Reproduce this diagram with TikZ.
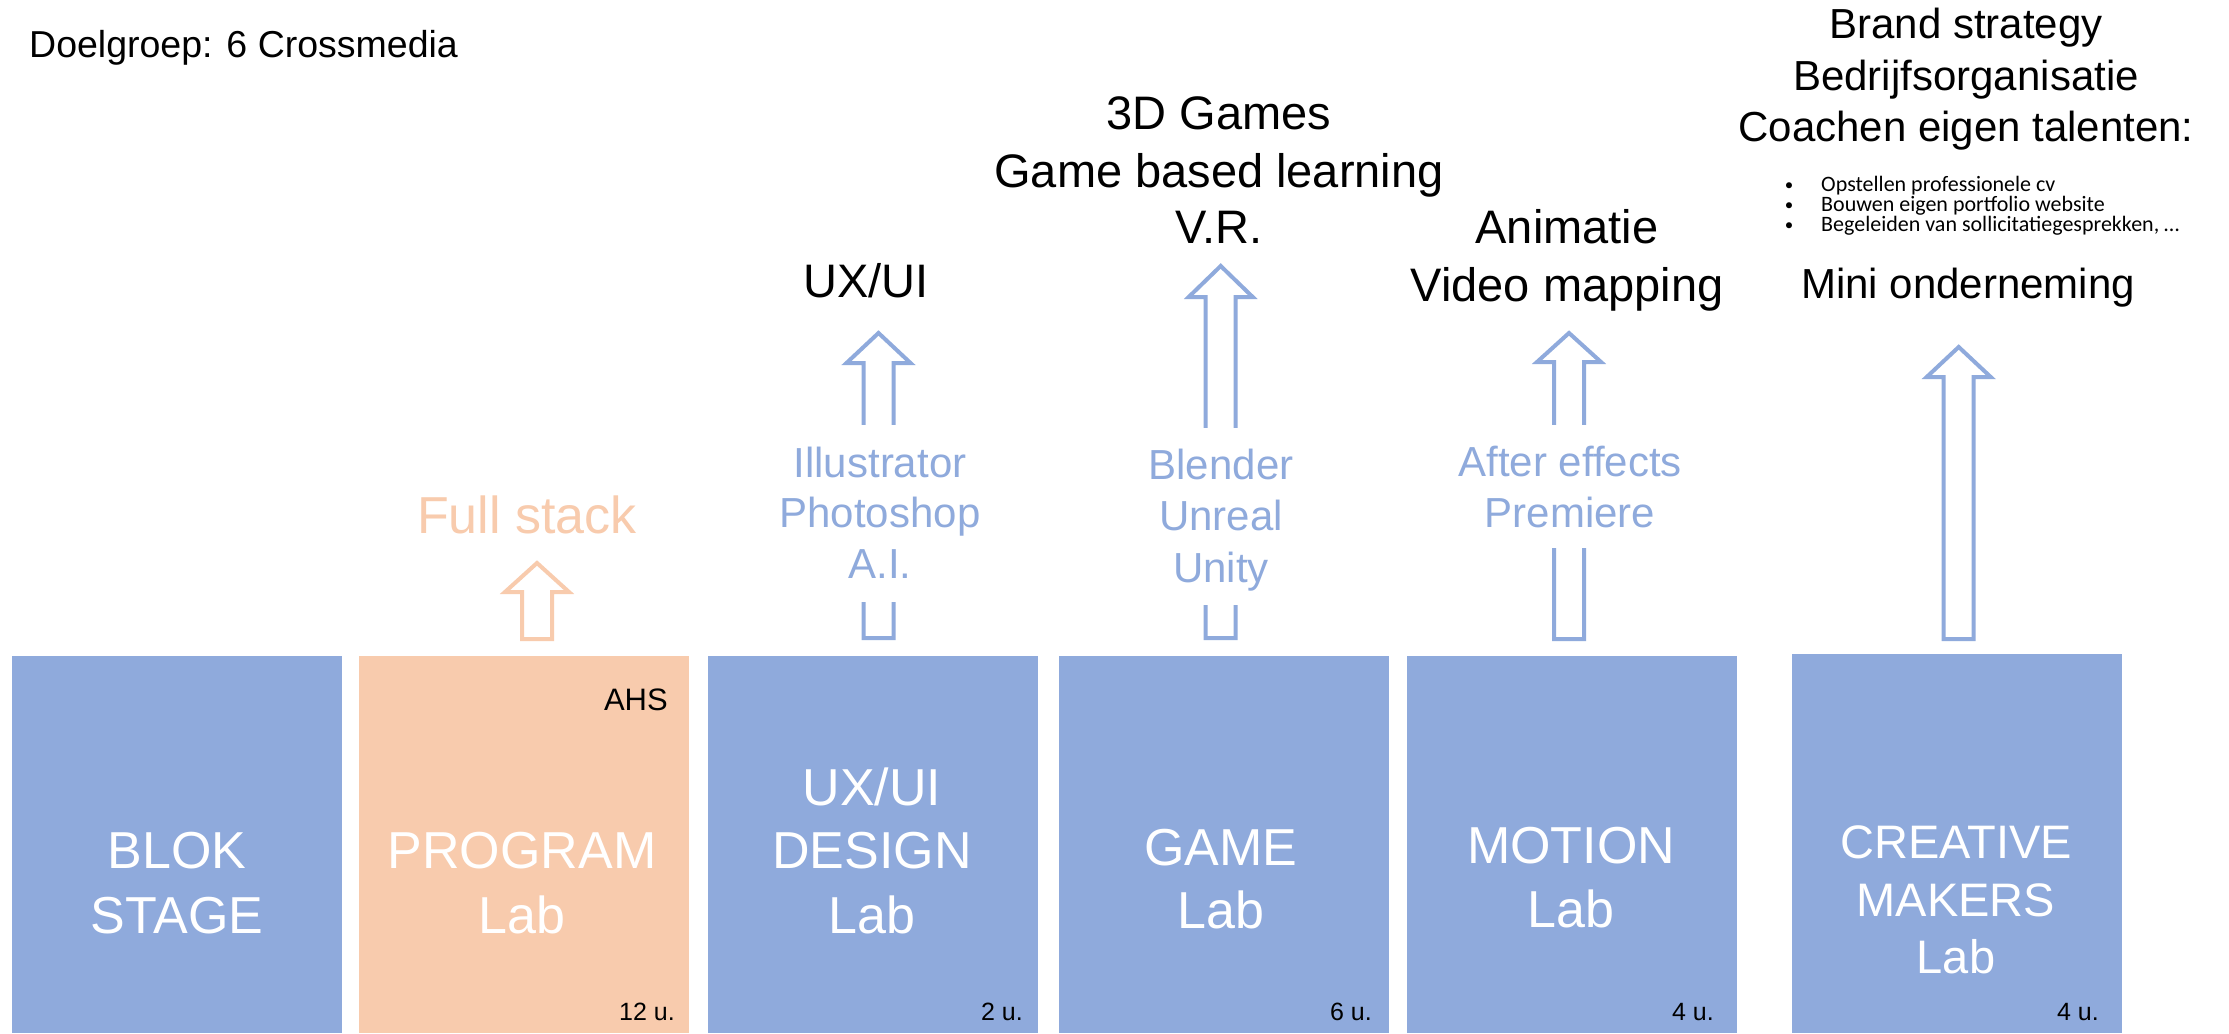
\documentclass[tikz,border=0pt]{standalone}
\usepackage{fontspec}
\setmainfont{Liberation Sans}
\newfontfamily\calib{Carlito}
\definecolor{labblue}{HTML}{8FAADC}
\definecolor{laborange}{HTML}{F8CBAD}
\newcommand\blockarrow[5]{%
  \draw[#1, line width=4pt, line join=miter, miter limit=10]
    (#2-15,#5) -- (#2-15,#4) -- (#2-32,#4) -- (#2,#3) -- (#2+32,#4) -- (#2+15,#4) -- (#2+15,#5) -- cycle;}
\newcommand\gapcover[3]{\fill[white] (#1-22,#2) rectangle (#1+22,#3);}
\begin{document}
\begin{tikzpicture}[x=1pt,y=-1pt,
  labbox/.style={draw=none, minimum width=330pt, anchor=north west, inner sep=0pt},
  boxtxt/.style={text=white, font=\fontsize{52}{62}\selectfont, inner sep=0pt, anchor=base},
  boxtxtsm/.style={text=white, font=\fontsize{47}{56}\selectfont, inner sep=0pt, anchor=base},
  hrs/.style={text=black, font=\fontsize{25}{30}\selectfont, inner sep=0pt, anchor=base east},
  toptxt/.style={text=black, font=\fontsize{47}{56}\selectfont, inner sep=0pt, anchor=base},
  toptxtsm/.style={text=black, font=\fontsize{42}{50}\selectfont, inner sep=0pt, anchor=base},
  tooltxt/.style={text=labblue, font=\fontsize{42}{50}\selectfont, inner sep=0pt, anchor=base},
  bullettxt/.style={text=black, font=\calib\fontsize{22}{26}\selectfont, inner sep=0pt, anchor=base west},
  bulletdot/.style={text=black, font=\calib\fontsize{17}{20}\selectfont, inner sep=0pt, anchor=base}
]
\useasboundingbox (0,0) rectangle (2229,1033);
\fill[white] (0,0) rectangle (2229,1033);

% title
\node[text=black, font=\fontsize{37.5}{45}\selectfont, inner sep=0pt, anchor=base west] (title) at (29,57) {Doelgroep: 6 Crossmedia};

% boxes
\node[labbox, fill=labblue, minimum height=377pt] (blok) at (12,656) {};
\node[labbox, fill=laborange, minimum height=377pt] (program) at (359,656) {};
\node[labbox, fill=labblue, minimum height=377pt] (uxui) at (708,656) {};
\node[labbox, fill=labblue, minimum height=377pt] (game) at (1059,656) {};
\node[labbox, fill=labblue, minimum height=377pt] (motion) at (1407,656) {};
\node[labbox, fill=labblue, minimum height=379pt] (creative) at (1792,654) {};

% box texts
\node[boxtxt] (blok1) at (177,868) {BLOK};
\node[boxtxt] (blok2) at (177,933) {STAGE};
\node[boxtxt] (prog1) at (522,868) {PROGRAM};
\node[boxtxt] (prog2) at (522,933) {Lab};
\node[boxtxt] (ux1) at (872,805) {UX/UI};
\node[boxtxt] (ux2) at (872,868) {DESIGN};
\node[boxtxt] (ux3) at (872,933) {Lab};
\node[boxtxt] (game1) at (1221,865) {GAME};
\node[boxtxt] (game2) at (1221,928) {Lab};
\node[boxtxt] (mot1) at (1571,863) {MOTION};
\node[boxtxt] (mot2) at (1571,927) {Lab};
\node[boxtxtsm] (cre1) at (1956,858) {CREATIVE};
\node[boxtxtsm] (cre2) at (1956,916) {MAKERS};
\node[boxtxtsm] (cre3) at (1956,973) {Lab};

% hours
\node[text=black, font=\fontsize{31}{36}\selectfont, inner sep=0pt, anchor=base east] (ahs) at (668,710) {AHS};
\node[hrs] (h1) at (675,1020) {12 u.};
\node[hrs] (h2) at (1023,1020) {2 u.};
\node[hrs] (h3) at (1372,1020) {6 u.};
\node[hrs] (h4) at (1714,1020) {4 u.};
\node[hrs] (h5) at (2099,1020) {4 u.};

% arrows
\blockarrow{laborange}{537}{563}{592}{639}
\blockarrow{labblue}{878.5}{333}{363}{638}
\gapcover{878.5}{425}{602}
\blockarrow{labblue}{1220.7}{266}{297}{638}
\gapcover{1220.7}{428}{605}
\blockarrow{labblue}{1569}{333}{362}{639}
\gapcover{1569}{425}{548}
\blockarrow{labblue}{1958.7}{347}{377}{639}

% labels on arrows
\node[text=laborange, font=\fontsize{52}{62}\selectfont, inner sep=0pt, anchor=base] (fullstack) at (527,533) {Full stack};
\node[tooltxt] (t1) at (880,477) {Illustrator};
\node[tooltxt] (t2) at (880,527) {Photoshop};
\node[tooltxt] (t3) at (880,578) {A.I.};
\node[tooltxt] (g1) at (1221,479) {Blender};
\node[tooltxt] (g2) at (1221,530) {Unreal};
\node[tooltxt] (g3) at (1221,582) {Unity};
\node[tooltxt] (m1) at (1570,476) {After effects};
\node[tooltxt] (m2) at (1570,527) {Premiere};

% top texts
\node[toptxt] (o1) at (866,297) {UX/UI};
\node[toptxt] (o2) at (1219,129) {3D Games};
\node[toptxt] (o3) at (1219,187) {Game based learning};
\node[toptxt] (o4) at (1219,243) {V.R.};
\node[toptxt] (o5) at (1567,243) {Animatie};
\node[toptxt] (o6) at (1567,301) {Video mapping};
\node[toptxtsm] (c1) at (1966,38) {Brand strategy};
\node[toptxtsm] (c2) at (1966,90) {Bedrijfsorganisatie};
\node[toptxtsm] (c3) at (1966,141) {Coachen eigen talenten:};
\node[bulletdot] (b1) at (1789,190) {\textbullet};
\node[bulletdot] (b2) at (1789,210) {\textbullet};
\node[bulletdot] (b3) at (1789,230) {\textbullet};
\node[bullettxt] (l1) at (1821,191) {Opstellen professionele cv};
\node[bullettxt] (l2) at (1821,211) {Bouwen eigen portfolio website};
\node[bullettxt] (l3) at (1821,231) {Begeleiden van sollicitatiegesprekken, …};
\node[toptxtsm] (mini) at (1968,298) {Mini onderneming};
\end{tikzpicture}
\end{document}
